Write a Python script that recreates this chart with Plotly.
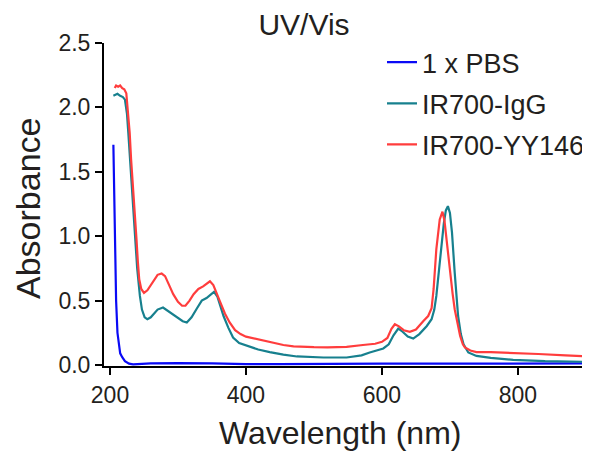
import plotly.graph_objects as go

# ---- Data ----
pbs_wl = [205, 206, 207, 209, 211, 213, 215, 218, 222, 228, 234, 260, 300, 350, 400, 450, 500, 600, 700, 800, 900]
pbs_abs = [1.71, 1.40, 1.00, 0.50, 0.25, 0.14, 0.09, 0.06, 0.03, 0.01, 0.004, 0.012, 0.015, 0.012, 0.006, 0.006,
           0.008, 0.010, 0.010, 0.012, 0.012]

igg_wl = [205, 208, 211, 215, 219, 222, 225, 227, 230, 234, 237, 240, 244, 247, 251, 255, 260, 265, 270, 278,
          285, 292, 300, 307, 313, 320, 328, 335, 342, 349, 353, 358, 363, 367, 374, 381, 390, 401, 418, 435,
          455, 475, 495, 514, 548, 570, 582, 602, 610, 617, 624, 630, 638, 646, 655, 666, 673, 677, 680, 686,
          691, 694, 697, 700, 703, 707, 712, 716, 720, 727, 739, 760, 793, 840, 906]
igg_abs = [2.09, 2.10, 2.105, 2.09, 2.08, 2.06, 1.95, 1.80, 1.55, 1.29, 0.975, 0.75, 0.536, 0.43, 0.37, 0.355,
           0.37, 0.40, 0.43, 0.446, 0.42, 0.40, 0.37, 0.34, 0.33, 0.37, 0.44, 0.50, 0.52, 0.55, 0.567, 0.53,
           0.45, 0.38, 0.29, 0.213, 0.17, 0.148, 0.12, 0.10, 0.08, 0.066, 0.06, 0.058, 0.058, 0.075, 0.097,
           0.128, 0.16, 0.23, 0.283, 0.26, 0.22, 0.205, 0.24, 0.303, 0.355, 0.43, 0.536, 0.846, 1.10, 1.20,
           1.233, 1.18, 1.03, 0.717, 0.38, 0.24, 0.16, 0.097, 0.07, 0.055, 0.04, 0.03, 0.024]

yy_wl = [207, 209, 212, 215, 218, 221, 224, 227, 229, 231, 233, 236, 239, 241, 243, 246, 250, 255, 260, 265,
         270, 276, 281, 287, 293, 300, 306, 311, 317, 323, 330, 337, 343, 347, 352, 357, 362, 369, 376, 384,
         392, 400, 412, 425, 440, 455, 470, 485, 500, 520, 548, 572, 590, 600, 608, 614, 619, 625, 632, 641,
         650, 661, 668, 673, 676, 680, 685, 689, 692, 695, 700, 704, 707, 711, 715, 719, 722, 730, 739, 760,
         793, 830, 870, 899]
yy_abs = [2.15, 2.17, 2.16, 2.17, 2.15, 2.14, 2.11, 1.95, 1.80, 1.60, 1.42, 1.15, 0.975, 0.80, 0.665, 0.59,
          0.56, 0.58, 0.62, 0.67, 0.70, 0.71, 0.69, 0.62, 0.55, 0.49, 0.46, 0.46, 0.50, 0.55, 0.59, 0.61, 0.63,
          0.65, 0.62, 0.55, 0.49, 0.40, 0.33, 0.27, 0.24, 0.22, 0.205, 0.187, 0.17, 0.155, 0.145, 0.14, 0.138,
          0.137, 0.14, 0.155, 0.165, 0.18, 0.21, 0.28, 0.316, 0.30, 0.27, 0.257, 0.275, 0.342, 0.38, 0.44,
          0.59, 0.90, 1.13, 1.19, 1.12, 0.975, 0.717, 0.55, 0.433, 0.32, 0.226, 0.16, 0.136, 0.112, 0.10,
          0.10, 0.095, 0.085, 0.075, 0.068]

series_names = ["1 x PBS", "IR700-IgG", "IR700-YY146"]
series_colors = ["#0A0AF5", "#17808E", "#FF3D3D"]

x_ticks = [200, 400, 600, 800]
y_ticks = [0.0, 0.5, 1.0, 1.5, 2.0, 2.5]

FONT = "Arial, 'Liberation Sans', Helvetica, sans-serif"
TXT = "#231F20"

# the page body adds an 8px margin, so the figure is sized/offset to compensate
W, H = 582, 446
L, T = 96, 35
B = 88
PW = W - L
PH = H - T - B

fig = go.Figure()
for i, (wl, ab, name, col) in enumerate(zip([pbs_wl, igg_wl, yy_wl], [pbs_abs, igg_abs, yy_abs],
                                             series_names, series_colors)):
    fig.add_trace(go.Scatter(x=wl, y=ab, mode="lines", name=name, legendgroup=f"g{i}",
                             line=dict(color=col, width=2.2)))

fig.update_layout(
    width=W, height=H,
    margin=dict(l=L, r=0, t=T, b=B, pad=0),
    paper_bgcolor="white", plot_bgcolor="white",
    font=dict(family=FONT, color=TXT),
    title=dict(text="UV/Vis", x=296 / W, xanchor="center", xref="container",
               y=1 - 16 / H, yanchor="middle", yref="container",
               font=dict(size=30, family=FONT, color=TXT)),
    legend=dict(x=(374 - L) / PW, y=1.015, xanchor="left", yanchor="top", bgcolor="rgba(0,0,0,0)",
                font=dict(size=27, family=FONT, color=TXT), tracegroupgap=3),
    showlegend=True,
    annotations=[
        dict(text="Wavelength (nm)", xref="paper", yref="paper",
             x=(332 - L) / PW, y=(H - B - 425) / PH, xanchor="center", yanchor="middle",
             showarrow=False, font=dict(size=32, family=FONT, color=TXT)),
        dict(text="Absorbance", xref="paper", yref="paper", textangle=-90,
             x=(20 - L) / PW, y=(H - B - 201) / PH, xanchor="center", yanchor="middle",
             showarrow=False, font=dict(size=34, family=FONT, color=TXT)),
    ],
)
fig.update_xaxes(
    range=[191.2, 906], tickvals=x_ticks, ticks="outside", ticklen=7, tickwidth=2, tickcolor="black",
    showline=True, linecolor="#000000", linewidth=2, showgrid=False, zeroline=False,
    tickfont=dict(size=23, family=FONT, color=TXT),
)
fig.update_yaxes(
    range=[-0.008, 2.5], tickvals=y_ticks, tickformat=".1f", ticks="outside", ticklen=7, tickwidth=2,
    tickcolor="black", showline=True, linecolor="#000000", linewidth=2, showgrid=False, zeroline=False,
    tickfont=dict(size=23, family=FONT, color=TXT),
)

fig.write_html("out.html")
